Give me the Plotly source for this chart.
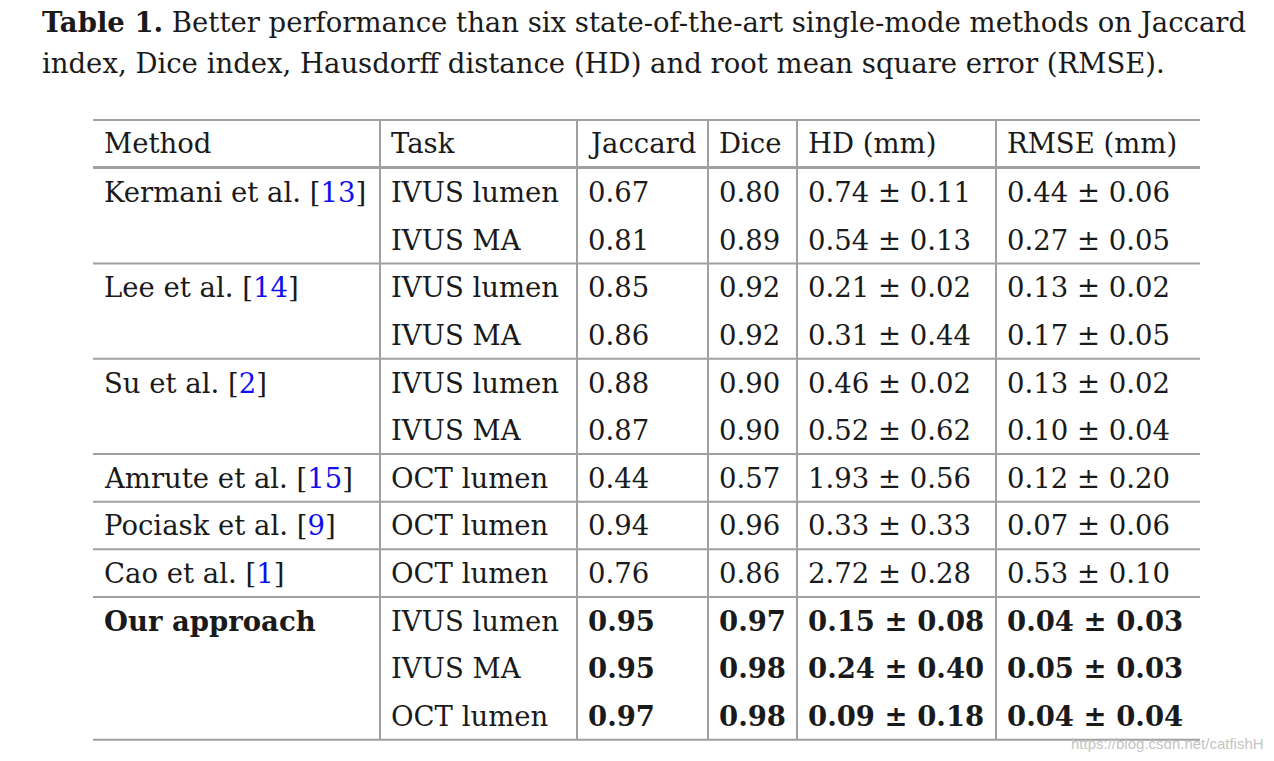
import plotly.graph_objects as go

# ---------------- data ----------------
caption_lines = [
    "<b>Table 1.</b> Better performance than six state-of-the-art single-mode methods on Jaccard",
    "index, Dice index, Hausdorff distance (HD) and root mean square error (RMSE).",
]
headers = ["Method", "Task", "Jaccard", "Dice", "HD (mm)", "RMSE (mm)"]
methods = ["Kermani et al.", "Lee et al.", "Su et al.", "Amrute et al.", "Pociask et al.", "Cao et al.", "Our approach"]
method_refs = ["13", "14", "2", "15", "9", "1", ""]
method_rows = [2, 2, 2, 1, 1, 1, 3]
tasks = ["IVUS lumen", "IVUS MA", "IVUS lumen", "IVUS MA", "IVUS lumen", "IVUS MA",
         "OCT lumen", "OCT lumen", "OCT lumen", "IVUS lumen", "IVUS MA", "OCT lumen"]
jaccard = [0.67, 0.81, 0.85, 0.86, 0.88, 0.87, 0.44, 0.94, 0.76, 0.95, 0.95, 0.97]
dice = [0.80, 0.89, 0.92, 0.92, 0.90, 0.90, 0.57, 0.96, 0.86, 0.97, 0.98, 0.98]
hd_mean = [0.74, 0.54, 0.21, 0.31, 0.46, 0.52, 1.93, 0.33, 2.72, 0.15, 0.24, 0.09]
hd_sd = [0.11, 0.13, 0.02, 0.44, 0.02, 0.62, 0.56, 0.33, 0.28, 0.08, 0.40, 0.18]
rmse_mean = [0.44, 0.27, 0.13, 0.17, 0.13, 0.10, 0.12, 0.07, 0.53, 0.04, 0.05, 0.04]
rmse_sd = [0.06, 0.05, 0.02, 0.05, 0.02, 0.04, 0.20, 0.06, 0.10, 0.03, 0.03, 0.04]
watermark = "https://blog.csdn.net/catfishH"

# ---------------- layout constants ----------------
W, H = 1274, 761
FONT = "DejaVu Serif"
FS = 27.5
CAP_FS = 27.5
TEXT_COLOR = "#1a1a1a"
LINE_COLOR = "#a0a0a0"
REF_COLOR = "#1010ee"

col_edges = [93, 380, 577, 708, 797, 996, 1200]
col_pad = 9
header_y = 143
row0_y = 192
row_h = 47.64
table_top = 120

n_rows = len(tasks)
row_y = [row0_y + row_h * i for i in range(n_rows)]
table_bottom = row_y[-1] + row_h / 2

fig = go.Figure()
ann = []


def add_text(x, y, text, size=FS, color=TEXT_COLOR, xanchor="left", family=FONT):
    ann.append(dict(x=x, y=y, xref="x", yref="y", text=text, showarrow=False,
                    xanchor=xanchor, yanchor="middle",
                    font=dict(family=family, size=size, color=color)))


# caption
for i, line in enumerate(caption_lines):
    add_text(40, 22 + 41 * i, line, size=CAP_FS)

# headers
for c, h in enumerate(headers):
    add_text(col_edges[c] + col_pad, header_y, h)

# method column
ours_start = sum(method_rows[:-1])
r = 0
group_ends = []
for m, ref, n in zip(methods, method_refs, method_rows):
    if ref:
        txt = f"{m} [<span style='color:{REF_COLOR}'>{ref}</span>]"
    else:
        txt = f"<b>{m}</b>"
    add_text(col_edges[0] + col_pad, row_y[r], txt)
    r += n
    group_ends.append(r)

# data columns
for i in range(n_rows):
    bold = i >= ours_start
    sep = " ± "
    vals = [tasks[i],
            f"{jaccard[i]:.2f}",
            f"{dice[i]:.2f}",
            f"{hd_mean[i]:.2f}{sep}{hd_sd[i]:.2f}",
            f"{rmse_mean[i]:.2f}{sep}{rmse_sd[i]:.2f}"]
    for c, v in enumerate(vals, start=1):
        t = f"<b>{v}</b>" if (bold and c >= 2) else v
        add_text(col_edges[c] + col_pad, row_y[i], t)

add_text(1266, 743, watermark, size=15, color="#c4c4c4", xanchor="right", family="Liberation Sans")

# rules
shapes = []


def hline(y, w=2):
    shapes.append(dict(type="line", xref="x", yref="y", x0=col_edges[0], x1=col_edges[-1],
                       y0=y, y1=y, line=dict(color=LINE_COLOR, width=w)))


hline(table_top)
hline(header_y + (row0_y - header_y) / 2, w=3)
for e in group_ends[:-1]:
    hline(row_y[e - 1] + row_h / 2)
hline(table_bottom)
for x in col_edges[1:-1]:
    shapes.append(dict(type="line", xref="x", yref="y", x0=x, x1=x, y0=table_top, y1=table_bottom,
                       line=dict(color=LINE_COLOR, width=2)))

fig.update_layout(
    width=W, height=H, margin=dict(l=0, r=0, t=0, b=0),
    paper_bgcolor="white", plot_bgcolor="white",
    xaxis=dict(range=[0, W], visible=False, fixedrange=True),
    yaxis=dict(range=[H, 0], visible=False, fixedrange=True),
    annotations=ann, shapes=shapes, showlegend=False,
)
fig.write_html("out.html", config={"displayModeBar": False},
               post_script="document.body.style.margin='0';document.body.style.overflow='hidden';")
